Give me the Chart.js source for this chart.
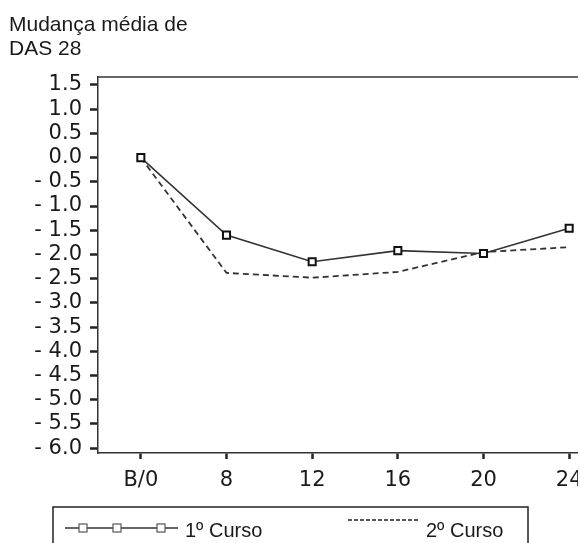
<!DOCTYPE html>
<html>
<head>
<meta charset="utf-8">
<script src="https://cdn.jsdelivr.net/npm/chart.js@4/dist/chart.umd.min.js"></script>
<style>
  html, body { margin: 0; padding: 0; background: #fff; }
  #wrap { width: 578px; height: 543px; overflow: hidden; position: relative; }
  #box { width: 640px; height: 543px; }
</style>
</head>
<body>
<div id="wrap"><div id="box"><canvas id="mudancaChart"></canvas></div></div>
<script>
var semanas = ["B/0", "8", "12", "16", "20", "24"];
var curso1 = [0.0, -1.6, -2.15, -1.92, -1.98, -1.46];
var curso2 = [0.0, -2.38, -2.48, -2.36, -1.95, -1.85];
var yTicks = [1.5, 1.0, 0.5, 0.0, -0.5, -1.0, -1.5, -2.0, -2.5, -3.0, -3.5, -4.0, -4.5, -5.0, -5.5, -6.0];
var titulo = ["Mudança média de", "DAS 28"];

var fonte = "'Liberation Sans', Arial, sans-serif";
var fonteEixo = "'DejaVu Sans', sans-serif";

// moldura de cima, título e legenda
var extras = {
    id: "extras",
    afterDraw: function (chart) {
        var ctx = chart.ctx;
        var a = chart.chartArea;
        ctx.save();
        ctx.strokeStyle = "#333";
        ctx.lineWidth = 1.5;
        ctx.beginPath();
        ctx.moveTo(a.left, a.top);
        ctx.lineTo(a.right, a.top);
        ctx.stroke();

        ctx.fillStyle = "#1a1a1a";
        ctx.font = "21px " + fonte;
        ctx.textBaseline = "alphabetic";
        ctx.textAlign = "left";
        ctx.fillText(titulo[0], 9, 31);
        ctx.fillText(titulo[1], 9, 55);

        // legenda
        ctx.strokeStyle = "#222";
        ctx.lineWidth = 1.5;
        ctx.strokeRect(53, 507, 475, 60);

        var ds = chart.data.datasets;
        ctx.lineWidth = 1.5;
        ctx.strokeStyle = "#333";
        ctx.beginPath();
        ctx.moveTo(65, 528);
        ctx.lineTo(178, 528);
        ctx.stroke();
        [83, 117, 161].forEach(function (x) {
            ctx.fillStyle = "#fff";
            ctx.fillRect(x - 4, 524, 8, 8);
            ctx.strokeStyle = "#555";
            ctx.lineWidth = 1.2;
            ctx.strokeRect(x - 4, 524, 8, 8);
        });
        ctx.fillStyle = "#1a1a1a";
        ctx.font = "20px " + fonte;
        ctx.fillText(ds[0].label, 185, 537);

        ctx.strokeStyle = "#222";
        ctx.lineWidth = 1.5;
        ctx.setLineDash([4, 2]);
        ctx.beginPath();
        ctx.moveTo(348, 520);
        ctx.lineTo(420, 520);
        ctx.stroke();
        ctx.setLineDash([]);
        ctx.fillText(ds[1].label, 426, 537);
        ctx.restore();
    }
};

var ctx = document.getElementById("mudancaChart");
var myChart = new Chart(ctx, {
    type: "line",
    data: {
        labels: semanas,
        datasets: [
            {
                data: curso1,
                label: "1º Curso",
                borderColor: "#333",
                borderWidth: 1.6,
                pointStyle: "rect",
                pointRadius: 5,
                pointBorderWidth: 2,
                pointBorderColor: "#111",
                pointBackgroundColor: "#fff",
                tension: 0,
                fill: false,
                order: 0
            },
            {
                data: curso2,
                label: "2º Curso",
                borderColor: "#333",
                borderWidth: 1.8,
                borderDash: [6, 4],
                pointRadius: 0,
                tension: 0,
                fill: false,
                order: 1
            }
        ]
    },
    options: {
        responsive: true,
        maintainAspectRatio: false,
        animation: false,
        layout: { padding: { left: 0, right: 28, top: 77, bottom: 40 } },
        plugins: {
            legend: { display: false },
            tooltip: { enabled: false }
        },
        scales: {
            x: {
                offset: true,
                afterFit: function (s) { s.height = 50; },
                grid: {
                    drawOnChartArea: false,
                    tickLength: 6,
                    tickWidth: 2.5,
                    tickColor: "#222"
                },
                border: { display: true, color: "#333", width: 1.5 },
                ticks: {
                    color: "#1a1a1a",
                    padding: 9,
                    maxRotation: 0,
                    autoSkip: false,
                    font: { family: fonteEixo, size: 21 }
                }
            },
            y: {
                min: -6.1,
                max: 1.665,
                afterFit: function (s) { s.width = 98; },
                afterBuildTicks: function (s) {
                    s.ticks = yTicks.map(function (v) { return { value: v }; });
                },
                grid: {
                    drawOnChartArea: false,
                    tickLength: 8,
                    tickWidth: 2.5,
                    tickColor: "#222"
                },
                border: { display: true, color: "#333", width: 1.5 },
                ticks: {
                    color: "#1a1a1a",
                    padding: 8,
                    autoSkip: false,
                    font: { family: fonteEixo, size: 21 },
                    callback: function (v) {
                        if (v < 0) return "- " + Math.abs(v).toFixed(1);
                        return Math.abs(v).toFixed(1);
                    }
                }
            }
        }
    },
    plugins: [extras]
});
</script>
</body>
</html>
